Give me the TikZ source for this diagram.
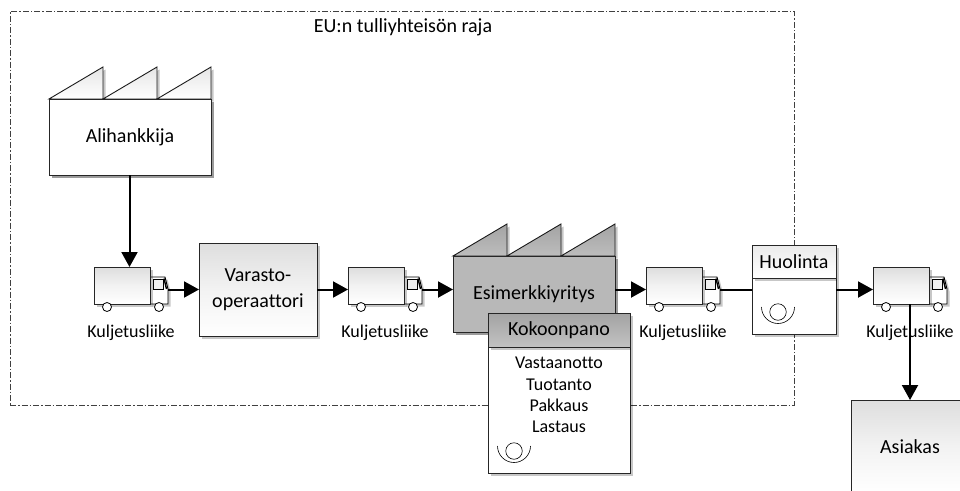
\documentclass[tikz,border=0pt]{standalone}
\usepackage{fontspec}
\setmainfont{Carlito}[Ligatures=NoCommon]
\usetikzlibrary{arrows.meta,shadows,calc}
\tikzset{
  softshadow/.style={general shadow={shadow xshift=2.5pt,shadow yshift=-2.5pt,fill=black,opacity=.22}},
  boxbase/.style={draw=black!85,line width=.9pt,inner sep=0pt,outer sep=0pt,align=center,font=\fontsize{20}{26}\selectfont,softshadow},
  lightbox/.style={boxbase,top color=black!13,bottom color=white,middle color=black!5},
  whitebox/.style={boxbase,fill=white},
  darkbox/.style={boxbase,fill=black!28},
  flow/.style={line width=2pt,-{Triangle[length=15pt,width=16pt]}},
  plainflow/.style={line width=2pt},
  boundary/.style={draw=black!75,line width=.7pt,dash pattern=on 6pt off 2pt on 1.5pt off 2pt},
  lbl/.style={font=\fontsize{18}{21}\selectfont,inner sep=0pt},
  tooth/.style={draw=black!90,line width=.9pt,line join=miter,softshadow},
  wheel/.style={circle,draw=black,line width=.8pt,fill=white,minimum size=9pt,inner sep=0pt},
  ring/.style={draw=black,line width=.6pt},
}
% #1 name, #2 x offset
\newcommand{\truckicon}[2]{%
  \node[minimum width=18pt,minimum height=29pt,inner sep=0pt,outer sep=0pt] (#1cab) at (#2+159,289.5) {};
  \draw[line width=.9pt,fill=white,softshadow] (#1cab.south west) -- ++(0,-27) -- ++(15,0) -- ++(3,12) -- (#1cab.south east) -- cycle;
  \node[lightbox,minimum width=56pt,minimum height=37pt] (#1) at (#2+122,285.5) {};
  \draw[line width=.9pt,fill=black!6] (#2+153,279) rectangle (#2+163,289);
  \draw[line width=1.4pt] (#2+164,278.5) -- (#2+166.5,289);
  \node[wheel] (#1wa) at (#2+107,307) {};
  \node[wheel] (#1wb) at (#2+159,307) {};
  \node[lbl] (#1lab) at (#2+131,332.5) {Kuljetusliike};
}
% #1 name, #2 fill style
\newcommand{\teeth}[2]{%
  \foreach \i in {0,1,2}{
    \path[tooth,#2] ($(#1.north west)+(\i*54,0)$) -- ++(54,-32) -- ++(0,32) -- cycle;
  }
}
\begin{document}
\begin{tikzpicture}[x=1pt,y=-1pt]
\useasboundingbox (0,0) rectangle (960,490);
\clip (0,0) rectangle (960,490);

\node[boundary,minimum width=784pt,minimum height=394pt,inner sep=0pt,outer sep=0pt] (rajaus) at (402,208) {};
\node[font=\fontsize{20}{24}\selectfont,inner sep=0pt] (rajaustxt) at (403,27) {EU:n tulliyhteisön raja};

% Alihankkija
\node[whitebox,minimum width=162pt,minimum height=76pt] (ali) at (130,137) {};
\teeth{ali}{top color=black!10,bottom color=white}
\node[whitebox,minimum width=162pt,minimum height=76pt] (alibox) at (130,137) {\raisebox{-1pt}{Alihankkija}};

% Trucks
\truckicon{ta}{0}
\truckicon{tb}{254}
\truckicon{tc}{552}
\truckicon{td}{779}

% Varasto
\node[lightbox,minimum width=118pt,minimum height=93pt] (var) at (258,289.5) {Varasto-\\operaattori};

% Esimerkkiyritys
\node[darkbox,minimum width=162pt,minimum height=76pt,align=center] (esi) at (534,294) {};
\teeth{esi}{top color=black!36,bottom color=black!26}
\node[darkbox,minimum width=162pt,minimum height=76pt,align=center] (esibox) at (534,294) {\raisebox{-2pt}{Esimerkkiyritys}};

% Kokoonpano
\node[whitebox,minimum width=142pt,minimum height=126pt] (kokbody) at (559,410) {};
\node[boxbase,minimum width=142pt,minimum height=34pt,top color=black!36,bottom color=black!24] (kokhead) at (559,330) {\raisebox{-1.5pt}{Kokoonpano}};
\node[font=\fontsize{18}{21.4}\selectfont,align=center,inner sep=0pt] (koklist) at (559,395) {Vastaanotto\\Tuotanto\\Pakkaus\\Lastaus};
\node[circle,ring,minimum size=16.5pt,inner sep=0pt] (kokring) at (514,451) {};
\draw[ring] ($(kokring)+(-16.5,-5)$) arc[start angle=180,end angle=360,radius=16.5pt];

% Huolinta
\node[whitebox,minimum width=84pt,minimum height=56pt] (huobody) at (794,306) {};
\node[boxbase,minimum width=84pt,minimum height=33pt,top color=black!8,bottom color=white] (huohead) at (794,261.5) {\raisebox{-1pt}{Huolinta}};
\node[circle,ring,minimum size=16.5pt,inner sep=0pt] (huoring) at (778,312) {};
\draw[ring] ($(huoring)+(-16.5,-5)$) arc[start angle=180,end angle=360,radius=16.5pt];

% Asiakas
\node[lightbox,minimum width=118pt,minimum height=93pt] (asi) at (910,446.5) {Asiakas};

% Connectors
\draw[flow] (alibox.south -| ta.north) ++(7.5,0) -- ($(ta.north)+(7.5,0)$);
\draw[flow] (tacab.east) -- (var.west);
\draw[flow] (var.east) -- (var.east -| tb.west);
\draw[flow] (tbcab.east) -- (tbcab.east -| esibox.west);
\draw[flow] (esibox.east |- var.east) -- (var.east -| tc.west);
\draw[plainflow] (tccab.east) -- (tccab.east -| huobody.west);
\draw[flow] (huobody.east |- var.east) -- (var.east -| td.west);
\draw[flow] (td.south -| asi.north) -- (asi.north);
\end{tikzpicture}
\end{document}
